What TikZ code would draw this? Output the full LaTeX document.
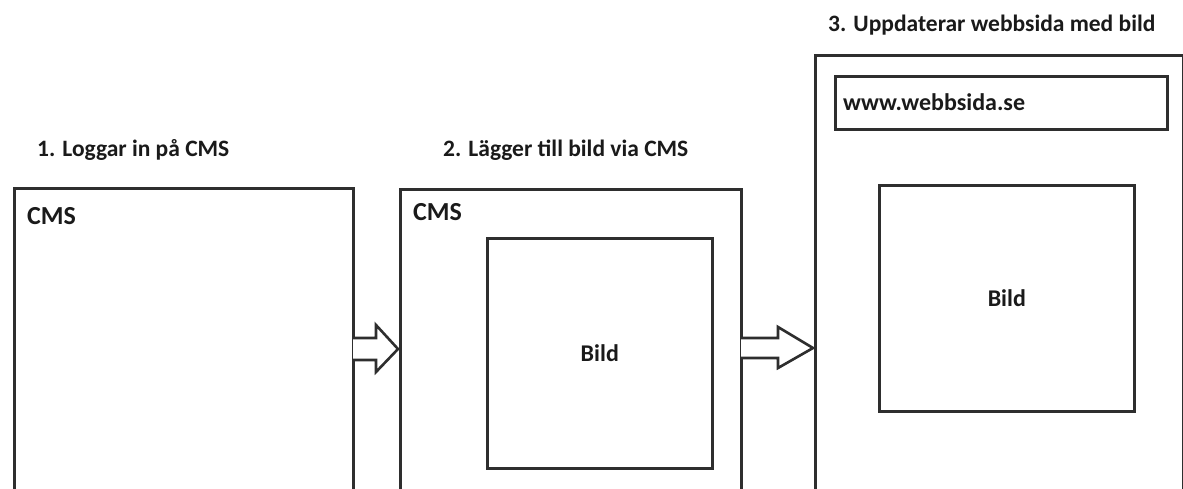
\documentclass[tikz,border=0pt]{standalone}
\usepackage{fontspec}
\setmainfont{Carlito}
\definecolor{linec}{HTML}{2E2E2E}
\definecolor{textc}{HTML}{1A1A1A}
\begin{document}
\begin{tikzpicture}[x=1pt,y=-1pt,
  box/.style={draw=linec, line width=2.6pt, fill=none, inner sep=0pt, anchor=north west},
  title/.style={text=textc, font=\bfseries\fontsize{23.5}{28}\selectfont, anchor=west, inner sep=0pt},
  lbl/.style={text=textc, font=\bfseries\fontsize{24}{28}\selectfont, inner sep=0pt},
  cmslbl/.style={lbl, font=\bfseries\fontsize{26}{30}\selectfont, anchor=west},
  blockarrow/.style={draw=linec, line width=2.6pt, fill=white, line join=miter}]
\useasboundingbox (0,0) rectangle (1183,488);
\clip (0,0) rectangle (1183,488);
\fill[white] (0,0) rectangle (1183,488);
% titles
\node[title] (t1) at (37,150) {1. Loggar in på CMS};
\node[title] (t2) at (443,150) {2. Lägger till bild via CMS};
\node[title] (t3) at (828,25) {3. Uppdaterar webbsida med bild};
% boxes
\node[box, minimum width=339pt, minimum height=320pt] (b1) at (13,187) {};
\node[box, minimum width=341pt, minimum height=320pt] (b2) at (399,188) {};
\node[box, minimum width=368pt, minimum height=450pt] (b3) at (814,54) {};
\node[box, minimum width=225pt, minimum height=230pt] (bild2) at (486,237) {};
\node[box, minimum width=332pt, minimum height=53pt] (www) at (834,75) {};
\node[box, minimum width=255pt, minimum height=226pt] (bild3) at (878,184) {};
% labels
\node[cmslbl] (c1) at (27,216) {CMS};
\node[cmslbl] (c2) at (413,212) {CMS};
\node[lbl] (l2) at (bild2.center) {Bild};
\node[lbl, anchor=west] (lw) at (843,102) {www.webbsida.se};
\node[lbl] (l3) at (bild3.center) {Bild};
% block arrows
\coordinate (a1tip) at (398,349);
\coordinate (a2tip) at (813,348);
\draw[blockarrow] (353,338) -- (376,338) -- (376,325) -- (a1tip) -- (376,372) -- (376,360) -- (353,360);
\draw[blockarrow] (741,338) -- (778,338) -- (778,327) -- (a2tip) -- (778,368) -- (778,358) -- (741,358);
\end{tikzpicture}
\end{document}
